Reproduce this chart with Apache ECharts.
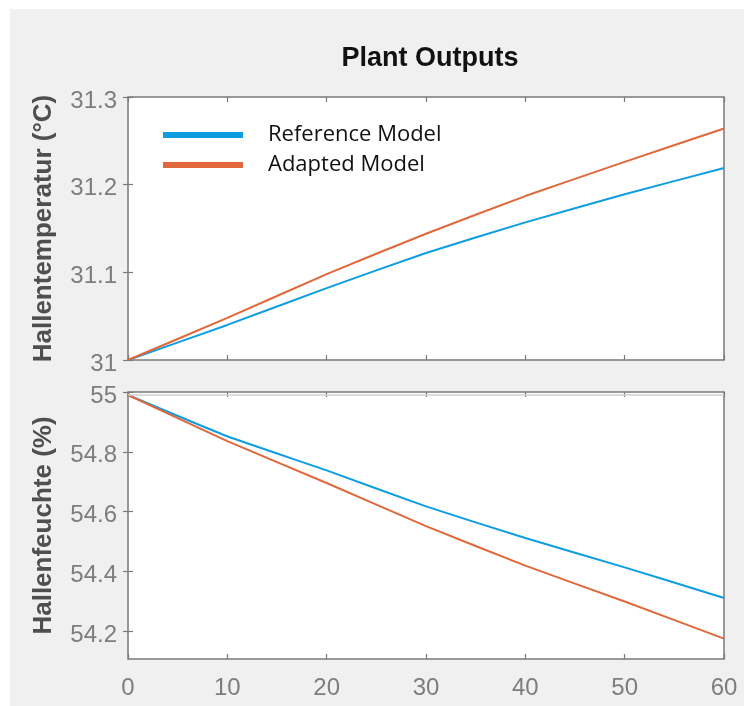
<!DOCTYPE html>
<html>
<head>
<meta charset="utf-8">
<title>Plant Outputs</title>
<script src="https://cdn.jsdelivr.net/npm/echarts@6/dist/echarts.min.js"></script>
<style>
  html, body { margin: 0; padding: 0; background: #ffffff; }
  #chart { width: 744px; height: 706px; }
</style>
</head>
<body>
<div id="chart"></div>
<script>
// Farben (MATLAB-ähnlich)
const COLORS = {
  reference: '#0f9de2',
  adapted: '#e0683a',
  frame: '#7a7a7a',
  tickText: '#7d7d7d',
  nameText: '#4f4f4f',
  figure: '#f0f0f0'
};

// Zeitachse (s)
const timeSteps = [0, 10, 20, 30, 40, 50, 60];
const xTicks = [0, 10, 20, 30, 40, 50, 60];

// Hallentemperatur (°C)
const tempReference = [31.0, 31.040, 31.082, 31.122, 31.157, 31.189, 31.219];
const tempAdapted = [31.0, 31.048, 31.098, 31.144, 31.187, 31.226, 31.264];

// Hallenfeuchte (%)
const humReference = [54.99, 54.852, 54.738, 54.618, 54.512, 54.414, 54.312];
const humAdapted = [54.99, 54.836, 54.696, 54.552, 54.420, 54.300, 54.176];
const humTicks = [54.2, 54.4, 54.6, 54.8, 55];
const humGuide = 54.99;

const pairs = (values) => timeSteps.map((t, i) => [t, values[i]]);

const FONT = '"Liberation Sans", Arial, sans-serif';

// Tick-Beschriftung links, leicht nach unten versetzt wie im Original
const yLabel = (extra) => Object.assign({
  margin: 11, fontFamily: FONT, fontSize: 24, color: COLORS.tickText,
  verticalAlign: 'top', lineHeight: 8
}, extra);

// Achse nur mit Ticks (für die Box oben/rechts)
const tickOnlyX = (gridIndex, position) => ({
  type: 'value', gridIndex, position, min: 0, max: 60, interval: 10,
  axisLine: { show: false },
  axisTick: { show: true, inside: true, length: 5, lineStyle: { color: COLORS.frame, width: 1.2 } },
  axisLabel: { show: false },
  splitLine: { show: false }
});

const chart = echarts.init(document.getElementById('chart'));

const option = {
  animation: false,
  backgroundColor: COLORS.figure,
  graphic: [
    { type: 'rect', z: -10, shape: { x: 0, y: 0, width: 744, height: 9 }, style: { fill: '#ffffff' } },
    { type: 'rect', z: -10, shape: { x: 0, y: 0, width: 10, height: 706 }, style: { fill: '#ffffff' } }
  ],
  title: {
    text: 'Plant Outputs',
    left: 425,
    top: 40,
    textAlign: 'center',
    textStyle: { fontFamily: FONT, fontWeight: 'bold', fontSize: 27, color: '#111111' }
  },
  legend: {
    orient: 'vertical',
    left: 158,
    top: 117,
    icon: 'rect',
    itemWidth: 80,
    itemHeight: 6,
    itemGap: 4,
    data: ['Reference Model', 'Adapted Model'],
    textStyle: {
      fontFamily: '"Open Sans", sans-serif',
      fontSize: 22,
      lineHeight: 26,
      color: '#111111',
      padding: [0, 0, 0, 20]
    }
  },
  grid: [
    { left: 128, top: 97, width: 596, height: 263, show: true, backgroundColor: '#ffffff', borderColor: COLORS.frame, borderWidth: 1.5 },
    { left: 128, top: 392, width: 596, height: 267, show: true, backgroundColor: '#ffffff', borderColor: COLORS.frame, borderWidth: 1.5 }
  ],
  xAxis: [
    tickOnlyX(0, 'bottom'),
    tickOnlyX(0, 'top'),
    {
      type: 'value', gridIndex: 1, position: 'bottom', min: 0, max: 60, interval: 10,
      axisLine: { show: false },
      axisTick: { show: true, inside: true, length: 5, lineStyle: { color: COLORS.frame, width: 1.2 } },
      axisLabel: {
        margin: 17, fontFamily: FONT, fontSize: 24, color: COLORS.tickText,
        customValues: xTicks
      },
      splitLine: { show: false }
    },
    tickOnlyX(1, 'top')
  ],
  yAxis: [
    {
      type: 'value', gridIndex: 0, position: 'left', min: 31, max: 31.3, interval: 0.1,
      name: 'Hallentemperatur (°C)', nameLocation: 'middle', nameGap: 71,
      nameTextStyle: { fontFamily: FONT, fontWeight: 'bold', fontSize: 26, color: COLORS.nameText },
      axisLine: { show: false },
      axisTick: { show: true, inside: true, length: 5, lineStyle: { color: COLORS.frame, width: 1.2 } },
      axisLabel: yLabel({}),
      splitLine: { show: false }
    },
    {
      type: 'value', gridIndex: 0, position: 'right', min: 31, max: 31.3, interval: 0.1,
      axisLine: { show: false },
      axisTick: { show: true, inside: true, length: 5, lineStyle: { color: COLORS.frame, width: 1.2 } },
      axisLabel: { show: false },
      splitLine: { show: false }
    },
    {
      type: 'value', gridIndex: 1, position: 'left', min: 54.108, max: 55,
      name: 'Hallenfeuchte (%)', nameLocation: 'middle', nameGap: 71,
      nameTextStyle: { fontFamily: FONT, fontWeight: 'bold', fontSize: 26, color: COLORS.nameText },
      axisLine: { show: false },
      axisTick: { show: true, inside: true, length: 5, customValues: humTicks, lineStyle: { color: COLORS.frame, width: 1.2 } },
      axisLabel: yLabel({ customValues: humTicks }),
      splitLine: { show: false }
    },
    {
      type: 'value', gridIndex: 1, position: 'right', min: 54.108, max: 55,
      axisLine: { show: false },
      axisTick: { show: true, inside: true, length: 5, customValues: humTicks, lineStyle: { color: COLORS.frame, width: 1.2 } },
      axisLabel: { show: false },
      splitLine: { show: false }
    }
  ],
  series: [
    {
      name: 'Reference Model', type: 'line', xAxisIndex: 0, yAxisIndex: 0,
      data: pairs(tempReference), smooth: 0.15, showSymbol: false,
      itemStyle: { color: COLORS.reference }, lineStyle: { width: 2, color: COLORS.reference }
    },
    {
      name: 'Adapted Model', type: 'line', xAxisIndex: 0, yAxisIndex: 0,
      data: pairs(tempAdapted), smooth: 0.15, showSymbol: false,
      itemStyle: { color: COLORS.adapted }, lineStyle: { width: 2, color: COLORS.adapted }
    },
    {
      name: 'Reference Model', type: 'line', xAxisIndex: 2, yAxisIndex: 2,
      data: pairs(humReference), smooth: 0.15, showSymbol: false,
      itemStyle: { color: COLORS.reference }, lineStyle: { width: 2, color: COLORS.reference },
      markLine: {
        silent: true, symbol: 'none', label: { show: false },
        lineStyle: { type: 'solid', color: '#cfcfcf', width: 1.5 },
        data: [{ yAxis: humGuide }]
      }
    },
    {
      name: 'Adapted Model', type: 'line', xAxisIndex: 2, yAxisIndex: 2,
      data: pairs(humAdapted), smooth: 0.15, showSymbol: false,
      itemStyle: { color: COLORS.adapted }, lineStyle: { width: 2, color: COLORS.adapted }
    }
  ]
};

chart.setOption(option);
</script>
</body>
</html>
